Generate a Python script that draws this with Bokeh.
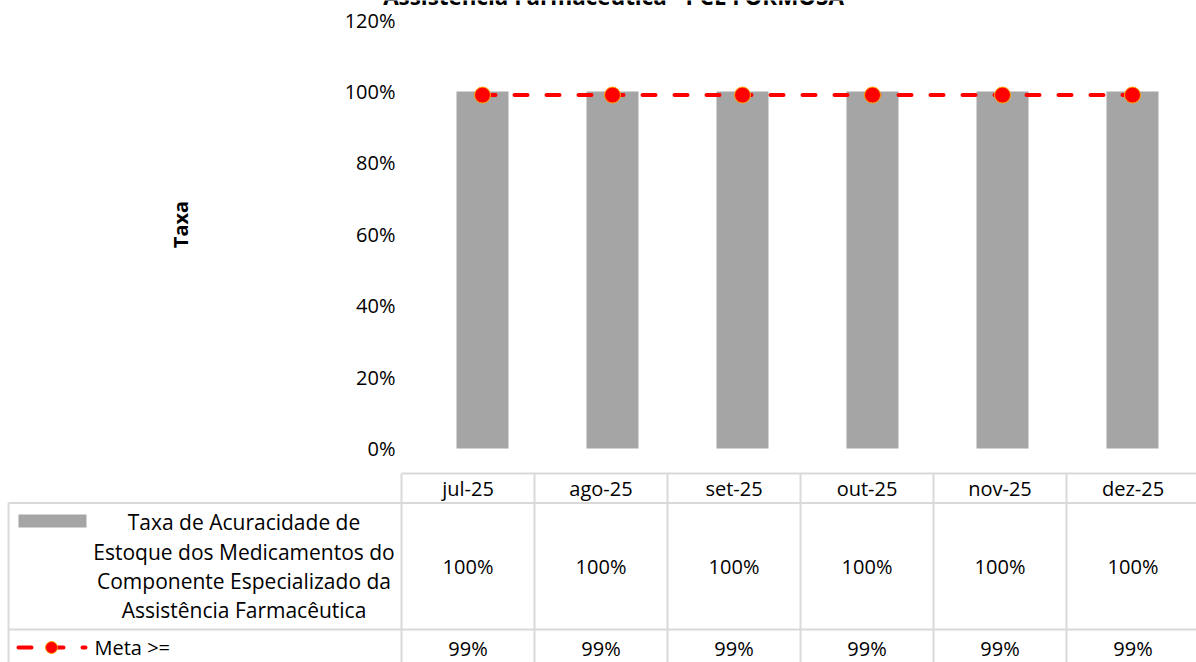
from bokeh.plotting import figure
from bokeh.models import Range1d, FixedTicker, PrintfTickFormatter
from bokeh.embed import file_html
from bokeh.resources import INLINE
from bokeh.core.properties import value

# ---------------- data ----------------
months = ["jul-25", "ago-25", "set-25", "out-25", "nov-25", "dez-25"]
taxa = [100, 100, 100, 100, 100, 100]
meta = [99, 99, 99, 99, 99, 99]
y_ticks = [0, 20, 40, 60, 80, 100, 120]
legend_lines = ["Taxa de Acuracidade de", "Estoque dos Medicamentos do",
                "Componente Especializado da", "Assistência Farmacêutica"]
meta_name = "Meta >="
title_text = "Assistência Farmacêutica - PCE FORMOSA"
y_label = "Taxa"

# ---------------- style / layout ----------------
FONT = "Open Sans"
BAR_COLOR = "#A5A5A5"
RED = "#FF0000"
MARK_LINE = "#FFA500"
GRID = "#D9D9D9"
TXT = "#000000"

W, H = 1196, 662
PLOT_L = 417.0      # pixel of the left edge of the category area
CAT_W = 130.0       # pixels per category in the chart
ZERO_Y = 448.0      # pixel of 0 %
PX_PCT = 3.57       # pixels per percent
COLW = 133.0        # data-table column width
TAB_L = 401.0       # left edge of the first data-table column

idx = list(range(len(months)))
n = len(months)


def cx(px):
    return -0.5 + (px - TAB_L) / COLW


p = figure(width=W, height=H, output_backend="svg", toolbar_location=None,
           x_range=Range1d(-0.5 - PLOT_L / CAT_W, -0.5 + (W - PLOT_L) / CAT_W),
           y_range=Range1d(-(H - ZERO_Y) / PX_PCT, ZERO_Y / PX_PCT),
           x_axis_location=None,
           min_border_left=0, min_border_right=0, min_border_top=0, min_border_bottom=0)
p.extra_x_ranges = {"tab": Range1d(cx(0), cx(W)), "px": Range1d(0, W)}
p.extra_y_ranges = {"py": Range1d(H, 0)}
p.outline_line_color = None
p.grid.visible = False
p.background_fill_color = "white"
p.border_fill_color = "white"

# ---- y axis (drawn at the left edge of the category area) ----
ya = p.yaxis[0]
ya.fixed_location = -0.5
ya.bounds = (0, ZERO_Y / PX_PCT + 4)
ya.ticker = FixedTicker(ticks=y_ticks)
ya.formatter = PrintfTickFormatter(format="%d%%")
ya.axis_line_color = None
ya.major_tick_line_color = None
ya.minor_tick_line_color = None
ya.major_tick_out = 0
ya.major_tick_in = 0
ya.major_label_standoff = 22
ya.major_label_text_font = FONT
ya.major_label_text_font_size = "20px"
ya.major_label_text_color = TXT
ya.axis_label = y_label
ya.axis_label_text_font = FONT
ya.axis_label_text_font_size = "20px"
ya.axis_label_text_font_style = "bold"
ya.axis_label_text_color = TXT
ya.axis_label_standoff = 148

# ---- chart marks ----
p.vbar(x=idx, top=taxa, width=0.4, fill_color=BAR_COLOR, line_color=None)
p.line(x=idx, y=meta, line_color=RED, line_width=4, line_dash="13 19", line_cap="round")
p.scatter(x=idx, y=meta, size=16, fill_color=RED, line_color=MARK_LINE, line_width=1)

# partially visible title (its upper lines lie above the page)
p.text(x=[613], y=[-4], text=[title_text], x_range_name="px", y_range_name="py",
       text_font=value(FONT), text_font_style="bold", text_font_size="22.4px",
       text_align="center", text_baseline="alphabetic", text_color=TXT)

# ---------------- data table ----------------
tab = dict(x_range_name="tab", y_range_name="py")
pxr = dict(x_range_name="px", y_range_name="py")

# horizontal lines
p.segment(x0=[TAB_L, 8, 8], x1=[W + 10] * 3, y0=[473, 502.5, 629], y1=[473, 502.5, 629],
          line_color=GRID, line_width=2, **pxr)
# vertical lines
vx = [i - 0.5 for i in range(n + 1)]
p.segment(x0=vx, x1=vx, y0=[473] * len(vx), y1=[H + 10] * len(vx),
          line_color=GRID, line_width=2, **tab)
p.segment(x0=[8], x1=[8], y0=[502.5], y1=[H + 10], line_color=GRID, line_width=2, **pxr)

common = dict(text_font=value(FONT), text_font_size="20px", text_color=TXT, text_baseline="middle")
p.text(x=idx, y=[487.5] * n, text=months, text_align="center", **common, **tab)
p.text(x=idx, y=[565.5] * n, text=[f"{v}%" for v in taxa], text_align="center", **common, **tab)
p.text(x=idx, y=[648] * n, text=[f"{v}%" for v in meta], text_align="center", **common, **tab)

# legend keys in the first column
p.quad(left=[18], right=[86], top=[514], bottom=[527], fill_color=BAR_COLOR, line_color=None, **pxr)
legend_common = dict(common, text_font_size="21px")
p.text(x=[243.5] * 4, y=[521, 551, 580, 609], text=legend_lines, text_align="center",
       **legend_common, **pxr)

p.line(x=[18, 85], y=[647, 647], line_color=RED, line_width=4, line_dash="13 19",
       line_cap="round", **pxr)
p.scatter(x=[51], y=[647], size=12, fill_color=RED, line_color=MARK_LINE, line_width=1, **pxr)
p.text(x=[94], y=[647], text=[meta_name], text_align="left", **common, **pxr)

open("out.html", "w").write(file_html(p, INLINE))
